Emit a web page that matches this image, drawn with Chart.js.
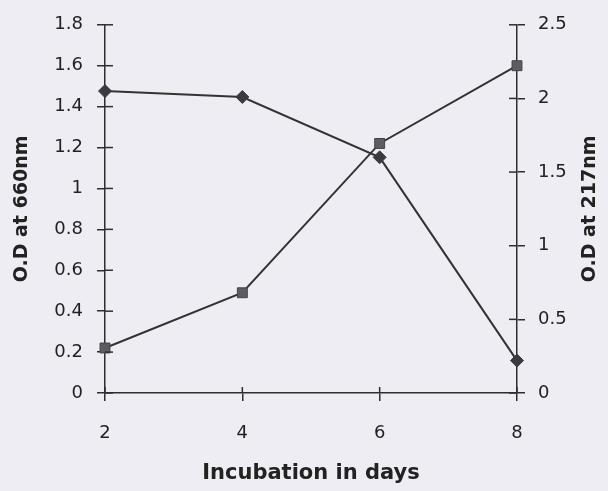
<!DOCTYPE html>
<html>
<head>
<meta charset="utf-8">
<script src="https://cdn.jsdelivr.net/npm/chart.js@4"></script>
<style>
  html, body { margin: 0; padding: 0; background: #ededf3; }
  #wrap { width: 608px; height: 491px; }
</style>
</head>
<body>
<div id="wrap"><canvas id="odChart" width="608" height="491"></canvas></div>
<script>
// --- Data ---
const days = ['2', '4', '6', '8'];
const od660 = [0.22, 0.49, 1.22, 1.6];   // squares, left axis
const od217 = [2.05, 2.01, 1.6, 0.22];   // diamonds, right axis
const leftTitle = 'O.D at 660nm';
const rightTitle = 'O.D at 217nm';
const xTitle = 'Incubation in days';

const ink = '#2e2e2e';
const lineCol = '#333333';

// tick labels like "1", "0.2", "2.5" (no trailing .0)
function tickText(value) {
    return String(Number(value.toFixed(1)));
}

// inner half of the tick marks + right title drawn bottom-to-top
const extras = {
    id: 'extras',
    afterDraw(chart) {
        const c = chart.ctx;
        const area = chart.chartArea;
        c.save();
        c.strokeStyle = ink;
        c.lineWidth = 1.5;
        const yl = chart.scales.y;
        yl.ticks.forEach((t, i) => {
            const y = yl.getPixelForTick(i);
            c.beginPath(); c.moveTo(area.left, y); c.lineTo(area.left + 8, y); c.stroke();
        });
        const yr = chart.scales.y1;
        yr.ticks.forEach((t, i) => {
            const y = yr.getPixelForTick(i);
            c.beginPath(); c.moveTo(area.right - 8, y); c.lineTo(area.right, y); c.stroke();
        });
        const xs = chart.scales.x;
        xs.ticks.forEach((t, i) => {
            const x = xs.getPixelForTick(i);
            c.beginPath(); c.moveTo(x, area.bottom - 6); c.lineTo(x, area.bottom); c.stroke();
        });
        // right axis title
        c.fillStyle = '#222';
        c.font = 'bold 19px "DejaVu Sans"';
        c.textAlign = 'center';
        c.textBaseline = 'middle';
        c.translate(590, (area.top + area.bottom) / 2);
        c.rotate(-Math.PI / 2);
        c.fillText(rightTitle, 0, 0);
        c.restore();
    }
};

const ctx = document.getElementById('odChart').getContext('2d');
const odChart = new Chart(ctx, {
    type: 'line',
    data: {
        labels: days,
        datasets: [{
            label: leftTitle,
            data: od660,
            yAxisID: 'y',
            borderColor: lineCol,
            borderWidth: 2,
            pointStyle: 'rect',
            pointRadius: 7,
            pointBackgroundColor: '#5c5c64',
            pointBorderColor: '#444',
            pointBorderWidth: 1,
            tension: 0
        },
        {
            label: rightTitle,
            data: od217,
            yAxisID: 'y1',
            borderColor: lineCol,
            borderWidth: 2,
            pointStyle: 'rectRot',
            pointRadius: 6.5,
            pointBackgroundColor: '#3a3a40',
            pointBorderColor: '#3a3a40',
            pointBorderWidth: 1,
            tension: 0
        }]
    },
    options: {
        responsive: false,
        animation: false,
        layout: { padding: { top: 24, left: 0, right: 0, bottom: 0 } },
        plugins: {
            legend: { display: false },
            tooltip: { enabled: false }
        },
        scales: {
            x: {
                type: 'category',
                offset: false,
                grid: { drawOnChartArea: false, tickLength: 8, color: ink, lineWidth: 1.5 },
                border: { color: ink, width: 1.5 },
                ticks: { color: '#222', font: { family: 'DejaVu Sans', size: 18 }, padding: 22 },
                title: {
                    display: true, text: xTitle, color: '#222',
                    font: { family: 'DejaVu Sans', size: 21, weight: 'bold' },
                    padding: { top: 0, bottom: 5 }
                },
                afterFit: function (scale) { scale.height = 98; }
            },
            y: {
                position: 'left',
                min: 0,
                max: 1.8,
                grid: { drawOnChartArea: false, tickLength: 8, color: ink, lineWidth: 1.5 },
                border: { color: ink, width: 1.5 },
                ticks: {
                    stepSize: 0.2, color: '#222', font: { family: 'DejaVu Sans', size: 18 }, padding: 14,
                    callback: tickText
                },
                title: {
                    display: true, text: leftTitle, color: '#222',
                    font: { family: 'DejaVu Sans', size: 19, weight: 'bold' },
                    padding: { top: 11, bottom: 0 }
                },
                afterFit: function (scale) { scale.width = 105; }
            },
            y1: {
                position: 'right',
                min: 0,
                max: 2.5,
                grid: { drawOnChartArea: false, tickLength: 8, color: ink, lineWidth: 1.5 },
                border: { color: ink, width: 1.5 },
                ticks: {
                    stepSize: 0.5, color: '#222', font: { family: 'DejaVu Sans', size: 18 }, padding: 13,
                    callback: tickText
                },
                afterFit: function (scale) { scale.width = 91; }
            }
        }
    },
    plugins: [extras]
});
</script>
</body>
</html>
